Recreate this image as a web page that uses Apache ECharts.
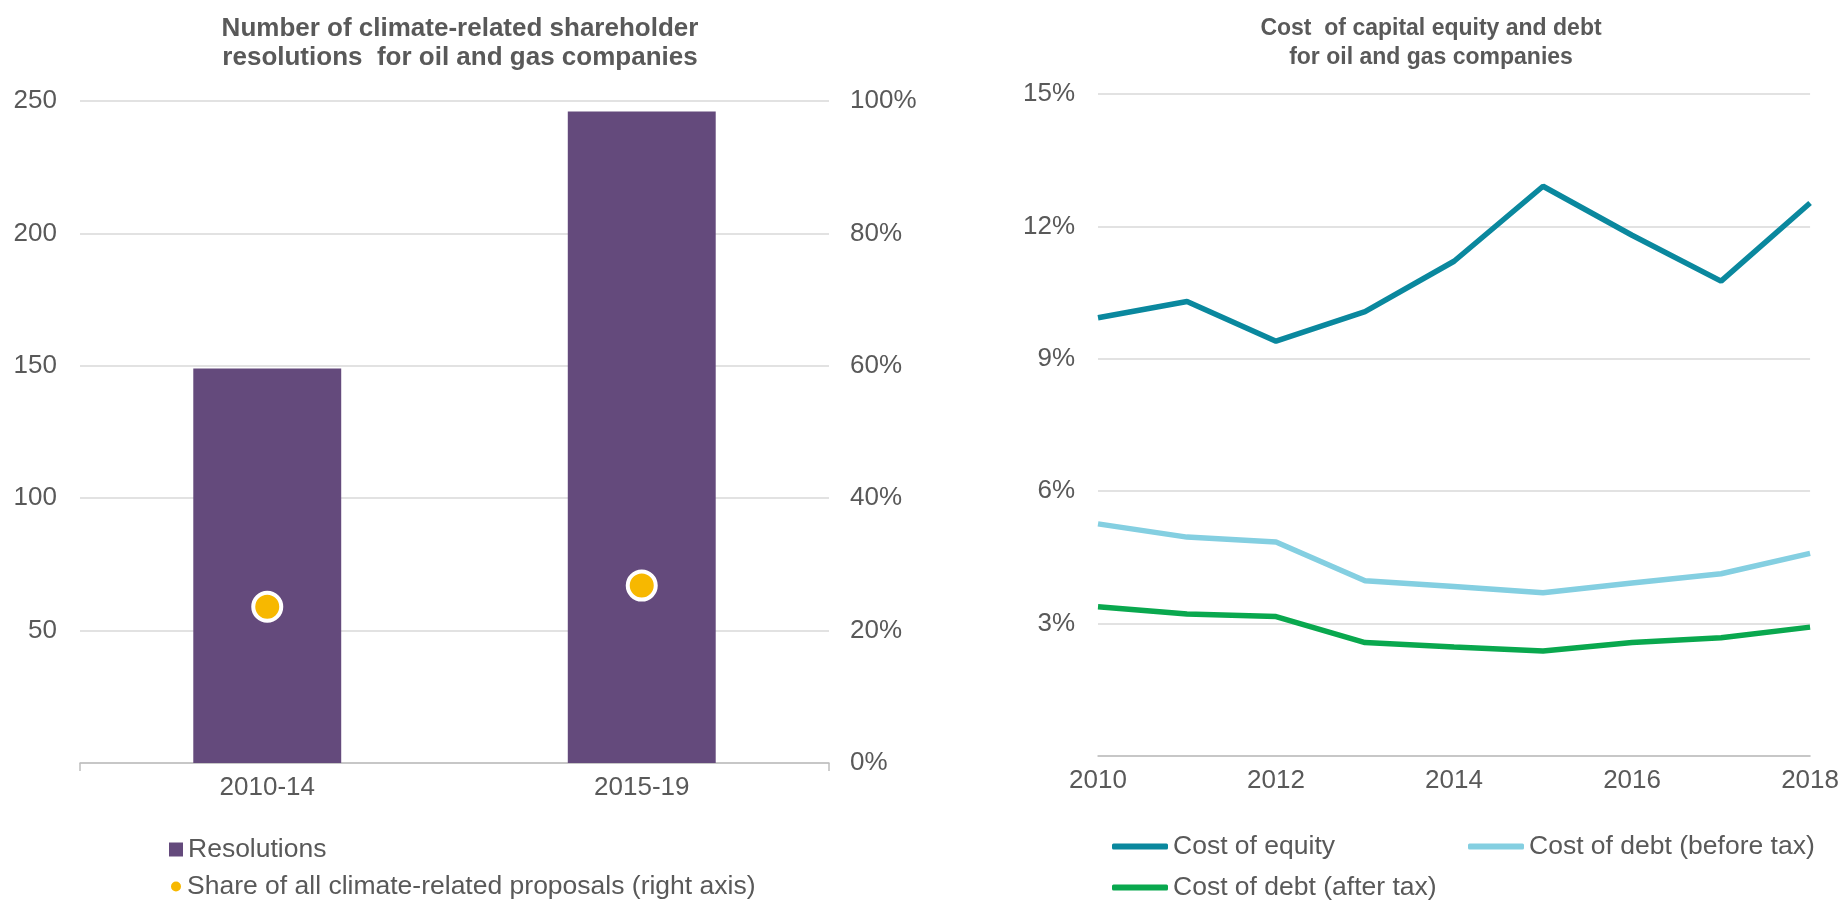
<!DOCTYPE html>
<html>
<head>
<meta charset="utf-8">
<script src="https://cdn.jsdelivr.net/npm/echarts@6/dist/echarts.min.js"></script>
<style>
  html, body { margin: 0; padding: 0; background: #fff; }
  #main { width: 1842px; height: 900px; }
</style>
</head>
<body>
<div id="main"></div>
<script>
// left panel: shareholder resolutions
const periods = ["2010-14", "2015-19"];
const resolutions = [149, 246];
const shareOfProposals = [23.6, 26.8]; // % (right axis)

// right panel: cost of capital, %
const years = ["2010", "2011", "2012", "2013", "2014", "2015", "2016", "2017", "2018"];
const costEquity = [9.93, 10.3, 9.4, 10.07, 11.21, 12.91, 11.8, 10.76, 12.53];
const costDebtBefore = [5.26, 4.96, 4.85, 3.97, 3.84, 3.7, 3.92, 4.13, 4.59];
const costDebtAfter = [3.38, 3.22, 3.16, 2.57, 2.47, 2.38, 2.57, 2.68, 2.92];

const txt = "#595959";
const font = "Liberation Sans, Arial, sans-serif";
const fs = 26;   // axis labels
const lfs = 26.5; // legends

var chart = echarts.init(document.getElementById("main"));

const option = {
  backgroundColor: "#fff",
  textStyle: { fontFamily: font, color: txt },
  animation: false,
  title: [
    {
      text: "Number of climate-related shareholder\nresolutions  for oil and gas companies",
      left: 455,
      top: 9,
      textAlign: "center",
      textStyle: { fontFamily: font, fontSize: 26, fontWeight: "bold", color: txt, lineHeight: 29 },
    },
    {
      text: "Cost  of capital equity and debt\nfor oil and gas companies",
      left: 1426,
      top: 9,
      textAlign: "center",
      textStyle: { fontFamily: font, fontSize: 23, fontWeight: "bold", color: txt, lineHeight: 29 },
    },
  ],
  legend: [
    {
      data: [{ name: "Resolutions", icon: "rect" }],
      left: 169, top: 836, padding: 0,
      itemWidth: 14, itemHeight: 14,
      textStyle: { fontFamily: font, fontSize: lfs, color: txt },
    },
    {
      data: [{ name: "Share of all climate-related proposals (right axis)", icon: "circle" }],
      left: 169, top: 873, padding: 0,
      itemWidth: 12, itemHeight: 12,
      textStyle: { fontFamily: font, fontSize: lfs, color: txt },
    },
    {
      data: [{ name: "Cost of equity", icon: "roundRect" }],
      left: 1112, top: 833, padding: 0,
      itemWidth: 56, itemHeight: 6,
      textStyle: { fontFamily: font, fontSize: lfs, color: txt },
    },
    {
      data: [{ name: "Cost of debt (before tax)", icon: "roundRect" }],
      left: 1468, top: 833, padding: 0,
      itemWidth: 56, itemHeight: 6,
      textStyle: { fontFamily: font, fontSize: lfs, color: txt },
    },
    {
      data: [{ name: "Cost of debt (after tax)", icon: "roundRect" }],
      left: 1112, top: 874, padding: 0,
      itemWidth: 56, itemHeight: 6,
      textStyle: { fontFamily: font, fontSize: lfs, color: txt },
    },
  ],
  grid: [
    { left: 80, top: 101, width: 749, height: 662 },
    { left: 1098, top: 94, width: 714, height: 662 },
  ],
  xAxis: [
    {
      type: "category",
      gridIndex: 0,
      data: periods,
      axisLine: { lineStyle: { color: "#bfbfbf", width: 1.5 } },
      axisTick: {
        show: true,
        length: 8,
        interval: function (i) { return i === 0; },
        lineStyle: { color: "#bfbfbf", width: 1.5 },
      },
      axisLabel: { fontSize: fs, color: txt, margin: 12, fontFamily: font },
    },
    {
      type: "category",
      gridIndex: 1,
      data: years,
      boundaryGap: false,
      axisLine: { lineStyle: { color: "#bfbfbf", width: 1.5 } },
      axisTick: { show: false },
      axisLabel: { fontSize: fs, color: txt, margin: 12, interval: 1, fontFamily: font },
    },
  ],
  yAxis: [
    {
      type: "value",
      gridIndex: 0,
      min: 0, max: 250, interval: 50,
      axisLine: { show: false },
      axisTick: { show: false },
      splitLine: { lineStyle: { color: "#d9d9d9", width: 1.5 } },
      axisLabel: {
        fontSize: fs, color: txt, margin: 23, fontFamily: font,
        formatter: function (v) { return v === 0 ? "" : v; },
      },
    },
    {
      type: "value",
      gridIndex: 0,
      position: "right",
      min: 0, max: 100, interval: 20,
      axisLine: { show: false },
      axisTick: { show: false },
      splitLine: { show: false },
      axisLabel: { fontSize: fs, color: txt, margin: 21, formatter: "{value}%", fontFamily: font },
    },
    {
      type: "value",
      gridIndex: 1,
      min: 0, max: 15, interval: 3,
      axisLine: { show: false },
      axisTick: { show: false },
      splitLine: { lineStyle: { color: "#d9d9d9", width: 1.5 } },
      axisLabel: {
        fontSize: fs, color: txt, margin: 23, fontFamily: font,
        formatter: function (v) { return v === 0 ? "" : v + "%"; },
      },
    },
  ],
  series: [
    {
      name: "Resolutions",
      type: "bar",
      xAxisIndex: 0, yAxisIndex: 0,
      barWidth: "39.5%",
      itemStyle: { color: "#644a7c" },
      data: resolutions,
    },
    {
      name: "Share of all climate-related proposals (right axis)",
      type: "scatter",
      xAxisIndex: 0, yAxisIndex: 1,
      symbolSize: 28,
      itemStyle: { color: "#f7b800", borderColor: "#fff", borderWidth: 4, opacity: 1 },
      data: shareOfProposals,
      z: 5,
    },
    {
      name: "Cost of equity",
      type: "line",
      xAxisIndex: 1, yAxisIndex: 2,
      showSymbol: false,
      lineStyle: { color: "#0a889e", width: 5.5 },
      itemStyle: { color: "#0a889e" },
      data: costEquity,
    },
    {
      name: "Cost of debt (before tax)",
      type: "line",
      xAxisIndex: 1, yAxisIndex: 2,
      showSymbol: false,
      lineStyle: { color: "#84cfe1", width: 5.5 },
      itemStyle: { color: "#84cfe1" },
      data: costDebtBefore,
    },
    {
      name: "Cost of debt (after tax)",
      type: "line",
      xAxisIndex: 1, yAxisIndex: 2,
      showSymbol: false,
      lineStyle: { color: "#09a84e", width: 5.5 },
      itemStyle: { color: "#09a84e" },
      data: costDebtAfter,
    },
  ],
};

chart.setOption(option);
</script>
</body>
</html>
